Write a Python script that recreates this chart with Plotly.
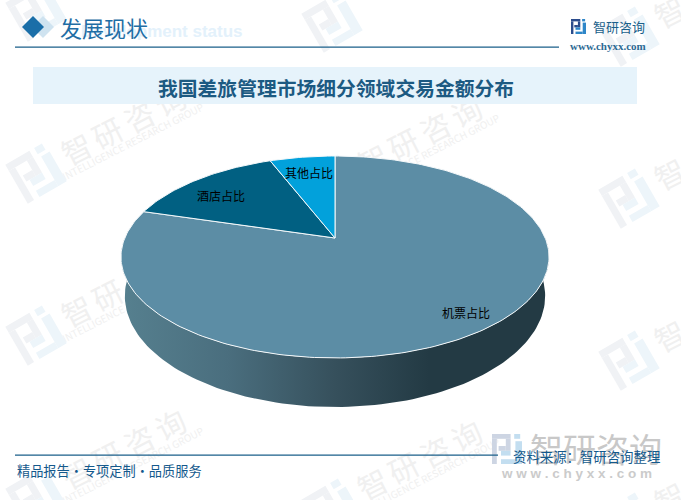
import math
import plotly.graph_objects as go

# ---- data ----
categories = ["机票占比", "酒店占比", "其他占比"]
shares = [79.6, 14.5, 5.9]
slice_colors = ["#5C8DA5", "#016082", "#02A1DB"]
title_text = "我国差旅管理市场细分领域交易金额分布"
header_text = "发展现状"
header_en = "Development status"
footer_left = "精品报告·专项定制·品质服务"
footer_right = "资料来源：智研咨询整理"
brand = "智研咨询"
brand_en = "INTELLIGENCE RESEARCH GROUP"
site = "www.chyxx.com"

# ---- pie geometry (pixels) ----
AX, AY = 335.0, 238.0      # apex
A, B, K = 210.2, 97.4, 0.188
LABEL_R = [0.90, 0.80, 0.80]
LABEL_NUDGE = [(0, -7), (-2, 5), (1, 1)]
SANS = "Noto Sans CJK SC"


def project(theta, r=1.0):
    x, y = r * math.sin(theta), r * math.cos(theta)
    d = 1 + K * y
    return AX + A * x / d, AY - B * y / d


fig = go.Figure()

# side wall: top rim front -> bottom rim back
n = 120
angs = [math.pi / 2 + math.pi * i / n for i in range(n + 1)]
rim = [project(t) for t in angs]
bot = [(AX + (px - AX) * 0.982, 296 + (py - 257) * 1.10) for px, py in rim]
wall_x = [p[0] for p in rim] + [p[0] for p in reversed(bot)]
wall_y = [p[1] for p in rim] + [p[1] for p in reversed(bot)]
fig.add_trace(go.Scatter(
    x=wall_x, y=wall_y, mode="lines", line=dict(width=0), fill="toself",
    fillgradient=dict(type="horizontal", start=121, stop=549, colorscale=[
        [0, "#56808F"], [0.25, "#4A6E7E"], [0.5, "#36505C"], [0.72, "#233A44"], [1, "#233A44"]]),
    hoverinfo="skip", showlegend=False))

# top face slices, clockwise from 12 o'clock
total = sum(shares)
start = 0.0
mids = []
for name, val, col in zip(categories, shares, slice_colors):
    end = start + val / total * 2 * math.pi
    steps = max(4, int((end - start) / 0.02))
    pts = [project(start + (end - start) * i / steps) for i in range(steps + 1)]
    xs = [AX] + [p[0] for p in pts] + [AX]
    ys = [AY] + [p[1] for p in pts] + [AY]
    fig.add_trace(go.Scatter(x=xs, y=ys, mode="lines", fill="toself", fillcolor=col,
                             line=dict(color="#F4F8FA", width=1), name=name,
                             hoverinfo="name", showlegend=False))
    mids.append((start + end) / 2)
    start = end

shapes = []
annots = []


def rect(x0, y0, x1, y1, color, layer="below"):
    shapes.append(dict(type="rect", xref="x", yref="y", x0=x0, y0=y0, x1=x1, y1=y1,
                       fillcolor=color, line=dict(width=0), layer=layer))


def text(x, y, s, size, color, anchor="center", weight="normal", angle=0, family=SANS):
    annots.append(dict(x=x, y=y, xref="x", yref="y", text=s, showarrow=False, xanchor=anchor,
                       yanchor="middle", textangle=angle,
                       font=dict(size=size, color=color, family=family, weight=weight)))


LOGO_A = [(0, 0, .62, .16), (0, .16, .16, 1), (.46, .16, .62, .56), (.22, .40, .46, .56)]
LOGO_B = [(.78, .24, 1, 1), (.30, .84, .78, 1), (.30, .56, .62, .72), (.74, 0, .94, .16)]


def logo(cx, cy, size, c1, c2, angle=0.0):
    ca, sa = math.cos(math.radians(angle)), math.sin(math.radians(angle))

    def pt(u, v):
        dx, dy = (u - .5) * size, (v - .5) * size
        return cx + dx * ca - dy * sa, cy + dx * sa + dy * ca

    for group, color in ((LOGO_A, c1), (LOGO_B, c2)):
        for x0, y0, x1, y1 in group:
            corners = [pt(x0, y0), pt(x1, y0), pt(x1, y1), pt(x0, y1)]
            path = "M" + "L".join(f"{a:.1f},{b:.1f}" for a, b in corners) + "Z"
            shapes.append(dict(type="path", path=path, xref="x", yref="y",
                               fillcolor=color, line=dict(width=0), layer="below"))


def watermark(lx, ly):
    logo(lx, ly, 45, "#F0F2F5", "#EDF5FA", -30)
    ca, sa = math.cos(math.radians(-27)), math.sin(math.radians(-27))
    for i, ch in enumerate(brand):
        d = (i - 1.5) * 35
        text(lx + 87 + d * ca, ly - 49 + d * sa, ch, 30, "#F0F0F0", angle=-27)
    text(lx + 96, ly - 32, brand_en, 10, "#F0F0F0", angle=-27)


for col_x, rows in [(36, (11, 173, 335, 497)), (332, (22, 184, 346, 508)), (629, (36, 198, 360, 522))]:
    for ly in rows:
        watermark(col_x, ly)
N_WATERMARK = len(annots)

# header
text(245, 31, header_en, 17, "#E3F1FB", anchor="right", weight="bold", family="Liberation Sans")
shapes.append(dict(type="path", path="M32,27L43,16L54,27L43,38Z", fillcolor="#CFE3F0",
                   line=dict(width=0), layer="below"))
shapes.append(dict(type="path", path="M22,27L33,16L44,27L33,38Z", fillcolor="#1A6EA8",
                   line=dict(width=0), layer="below"))
text(58, 27, header_text, 22, "#1F6EA5", anchor="left")
rect(15, 46.5, 559, 47.7, "#1A5F8A")

# top-right brand
logo(578.5, 26.5, 15, "#2B4C8C", "#2E86C8")
text(591, 26, brand, 13, "#1A5F8A", anchor="left")
text(608, 45.5, site, 11, "#2C6A94", family="Liberation Serif", weight="bold")

# title banner
rect(33, 67, 637, 104, "#E6F3FB")
text(335.5, 87, title_text, 19.8, "#1C5A82", weight="bold")

# footer
logo(507, 449, 30, "#CDD5E3", "#C3DEF0")
text(596, 448, brand, 33, "#C8C8C8")
text(576, 473, " ".join(site), 13.5, "#CBCBCB", family="Liberation Sans", weight="bold")
rect(15, 454.6, 498, 455.8, "#1A5F8A")
text(15, 470, footer_left, 13.2, "#14598C", anchor="left")
text(662, 456, footer_right, 13.4, "#14598C", anchor="right")

# slice labels
for name, th, r, (nx, ny) in zip(categories, mids, LABEL_R, LABEL_NUDGE):
    lx, ly = project(th, r)
    text(lx + nx, ly + ny, name, 12, "#000000")

fig.update_layout(
    width=681, height=500, margin=dict(l=0, r=0, t=0, b=0),
    paper_bgcolor="#FFFFFF", plot_bgcolor="rgba(0,0,0,0)",
    xaxis=dict(range=[0, 681], visible=False, fixedrange=True),
    yaxis=dict(range=[500, 0], visible=False, fixedrange=True),
    shapes=shapes, annotations=annots, showlegend=False,
)

# watermark annotations sit underneath the pie, as in the reference
post = """
document.body.style.margin='0';
(function(){
  var gd=document.getElementById('{plot_id}');
  function mv(){
    var below=gd.querySelector('.layer-below');
    if(!below) return;
    gd.querySelectorAll('.infolayer .annotation').forEach(function(el){
      if(+el.getAttribute('data-index')<NWM){ below.appendChild(el); }
    });
  }
  mv(); setTimeout(mv,0); setTimeout(mv,100);
})();
""".replace("NWM", str(N_WATERMARK))
fig.write_html("out.html", config={"displayModeBar": False}, post_script=post)
